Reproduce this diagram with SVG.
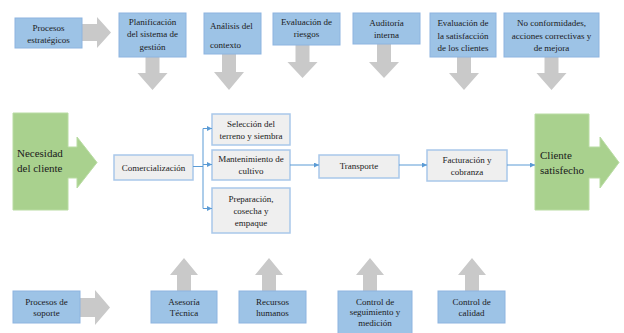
<svg xmlns="http://www.w3.org/2000/svg" width="624" height="333" viewBox="0 0 624 333">
<defs>
<style>
.blue{fill:#9dc3e6;stroke:#8db4e0;stroke-width:1}
.gray{fill:#efefef;stroke:#a9c8ea;stroke-width:1.5}
.green{fill:#a9d18e;stroke:#b9dca3;stroke-width:1}
.arr{fill:#c9c9c9;stroke:none}
.t{font-family:'Liberation Serif','DejaVu Serif',serif;font-size:9px;fill:#1a1a1a;text-anchor:middle}
.tl{font-family:'Liberation Serif','DejaVu Serif',serif;font-size:11px;fill:#1a1a1a}
.c{fill:none;stroke:#5b9bd5;stroke-width:1}
</style>
<marker id="ah" viewBox="0 0 6 6" refX="6" refY="3" markerWidth="5" markerHeight="5" orient="auto" markerUnits="userSpaceOnUse">
<path d="M0,0 L6,3 L0,6 z" fill="#5b9bd5"/>
</marker>
</defs>
<rect width="624" height="333" fill="#ffffff"/>

<g id="block-arrows">
<polygon class="arr" points="82,24 97,24 97,17 111,32.5 97,48 97,41 82,41"/>
<polygon class="arr" points="80,298 95,298 95,290 110,307.5 95,325 95,317 80,317"/>
<polygon class="arr" points="145.5,57 159.5,57 159.5,73 167.5,73 152.5,90 137.5,73 145.5,73"/>
<polygon class="arr" points="222,54 236,54 236,72 244,72 229,90 214,72 222,72"/>
<polygon class="arr" points="295.5,45 309.5,45 309.5,62 317.5,62 302.5,78 287.5,62 295.5,62"/>
<polygon class="arr" points="377,44 391,44 391,62 399,62 384,78 369,62 377,62"/>
<polygon class="arr" points="457,57 471,57 471,73 479,73 464,90 449,73 457,73"/>
<polygon class="arr" points="544.5,57 558.5,57 558.5,73 566.5,73 551.5,90 536.5,73 544.5,73"/>
<polygon class="arr" points="177,291 191,291 191,275 198,275 184,258 170,275 177,275"/>
<polygon class="arr" points="262,291 276,291 276,275 283,275 269,258 255,275 262,275"/>
<polygon class="arr" points="363,291 377,291 377,275 384,275 370,258 356,275 363,275"/>
<polygon class="arr" points="465,291 479,291 479,275 486,275 472,258 458,275 465,275"/>
</g>

<g id="n-estrategicos">
<rect class="blue" x="15" y="18" width="67" height="30"/>
<text class="t" x="48.5" y="31">Procesos</text>
<text class="t" x="48.5" y="43">estratégicos</text>
</g>
<g id="n-planificacion">
<rect class="blue" x="119" y="13" width="67" height="44"/>
<text class="t" x="152.5" y="25">Planificación</text>
<text class="t" x="152.5" y="37">del sistema de</text>
<text class="t" x="152.5" y="50">gestión</text>
</g>
<g id="n-analisis">
<rect class="blue" x="204" y="13" width="57" height="41"/>
<text class="t" x="210" y="29" style="text-anchor:start">Análisis del</text>
<text class="t" x="210" y="48" style="text-anchor:start">contexto</text>
</g>
<g id="n-riesgos">
<rect class="blue" x="273" y="13" width="67" height="32"/>
<text class="t" x="306.5" y="25">Evaluación de</text>
<text class="t" x="306.5" y="37">riesgos</text>
</g>
<g id="n-auditoria">
<rect class="blue" x="353" y="13" width="67" height="31"/>
<text class="t" x="386.5" y="26">Auditoría</text>
<text class="t" x="386.5" y="38">interna</text>
</g>
<g id="n-satisfaccion">
<rect class="blue" x="430" y="13" width="66" height="44"/>
<text class="t" x="463" y="26">Evaluación de</text>
<text class="t" x="463" y="39">la satisfacción</text>
<text class="t" x="463" y="51">de los clientes</text>
</g>
<g id="n-noconformidades">
<rect class="blue" x="504" y="13" width="95" height="44"/>
<text class="t" x="551.5" y="26">No conformidades,</text>
<text class="t" x="551.5" y="39">acciones correctivas y</text>
<text class="t" x="551.5" y="51">de mejora</text>
</g>

<g id="n-necesidad">
<polygon class="green" points="13,113 68,113 68,147 77,147 77,137 97,162.5 77,188 77,178 68,178 68,210 13,210"/>
<text class="tl" x="17" y="157">Necesidad</text>
<text class="tl" x="17" y="172">del cliente</text>
</g>
<g id="n-comercializacion">
<rect class="gray" x="114" y="155" width="79" height="25"/>
<text class="t" x="153.5" y="171">Comercialización</text>
</g>
<g id="n-seleccion">
<rect class="gray" x="212" y="114" width="78" height="31"/>
<text class="t" x="251" y="127">Selección del</text>
<text class="t" x="251" y="139">terreno y siembra</text>
</g>
<g id="n-mantenimiento">
<rect class="gray" x="212" y="150" width="78" height="30"/>
<text class="t" x="251" y="162">Mantenimiento de</text>
<text class="t" x="251" y="174">cultivo</text>
</g>
<g id="n-preparacion">
<rect class="gray" x="212" y="188" width="78" height="45"/>
<text class="t" x="251" y="202">Preparación,</text>
<text class="t" x="251" y="214">cosecha y</text>
<text class="t" x="251" y="226">empaque</text>
</g>
<g id="n-transporte">
<rect class="gray" x="319" y="155" width="80" height="23"/>
<text class="t" x="359" y="169">Transporte</text>
</g>
<g id="n-facturacion">
<rect class="gray" x="427" y="150" width="80" height="31"/>
<text class="t" x="467" y="163">Facturación y</text>
<text class="t" x="467" y="175">cobranza</text>
</g>
<g id="n-cliente">
<polygon class="green" points="535,114 589,114 589,147 600,147 600,137 619,162.5 600,188 600,178 589,178 589,210 535,210"/>
<text class="tl" x="540" y="159">Cliente</text>
<text class="tl" x="540" y="174">satisfecho</text>
</g>

<g id="n-soporte">
<rect class="blue" x="13" y="291" width="67" height="32"/>
<text class="t" x="46.5" y="305">Procesos de</text>
<text class="t" x="46.5" y="316">soporte</text>
</g>
<g id="n-asesoria">
<rect class="blue" x="151" y="291" width="66" height="32"/>
<text class="t" x="184" y="305">Asesoría</text>
<text class="t" x="184" y="316">Técnica</text>
</g>
<g id="n-recursos">
<rect class="blue" x="239" y="291" width="67" height="32"/>
<text class="t" x="272.5" y="305">Recursos</text>
<text class="t" x="272.5" y="316">humanos</text>
</g>
<g id="n-seguimiento">
<rect class="blue" x="338" y="291" width="74" height="44"/>
<text class="t" x="375" y="305">Control de</text>
<text class="t" x="375" y="315">seguimiento y</text>
<text class="t" x="375" y="326">medición</text>
</g>
<g id="n-calidad">
<rect class="blue" x="438" y="291" width="67" height="32"/>
<text class="t" x="471.5" y="305">Control de</text>
<text class="t" x="471.5" y="316">calidad</text>
</g>

<g id="connectors">
<path class="c" d="M193,166.5 H203 M203,128.5 V208.5"/>
<path class="c" d="M203,128.5 H212" marker-end="url(#ah)"/>
<path class="c" d="M203,164.5 H212" marker-end="url(#ah)"/>
<path class="c" d="M203,208.5 H212" marker-end="url(#ah)"/>
<path class="c" d="M290,165 H319" marker-end="url(#ah)"/>
<path class="c" d="M399,165 H427" marker-end="url(#ah)"/>
<path class="c" d="M507,165 H535" marker-end="url(#ah)"/>
</g>
</svg>
